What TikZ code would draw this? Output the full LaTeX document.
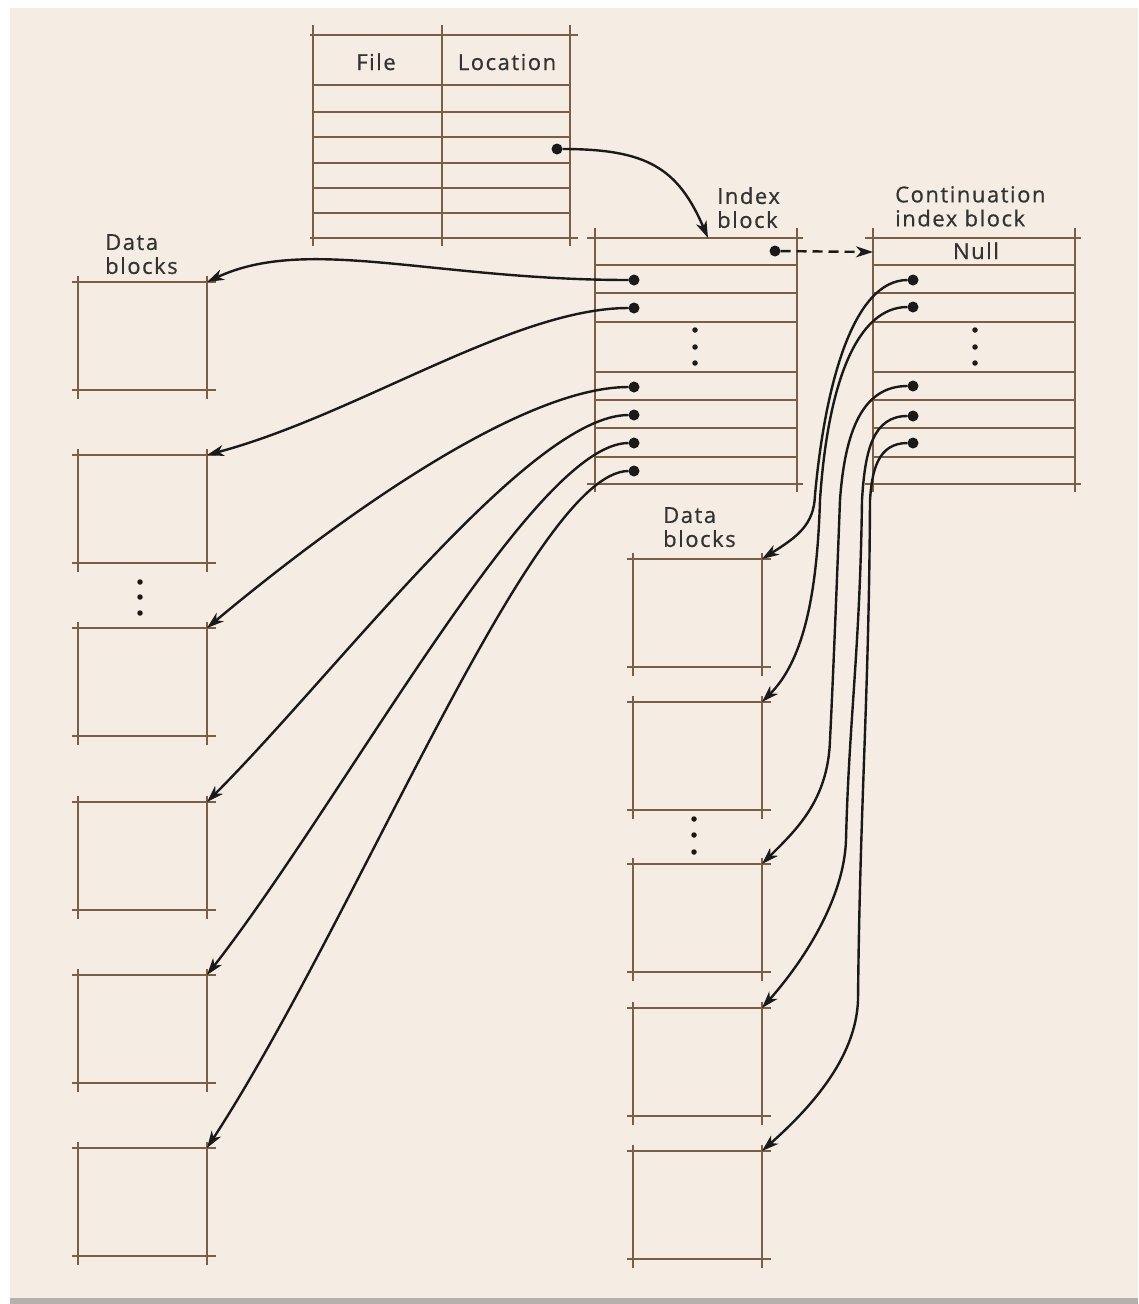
\documentclass[tikz,border=0pt]{standalone}
\usepackage{fontspec}
\setmainfont{Open Sans}[LetterSpace=7,FakeBold=0.6]
\usetikzlibrary{arrows.meta}

\definecolor{paper}{HTML}{F5EDE3}
\definecolor{rulebrown}{HTML}{7B5E44}
\definecolor{ink}{HTML}{1A1A1A}
\definecolor{labelgray}{HTML}{333333}
\definecolor{edgegray}{HTML}{B4B1AD}

\tikzset{
  rule/.style={draw=rulebrown, line width=2.8pt},
  ptr/.style={draw=ink, line width=2.4pt, -{Stealth[length=17pt,width=11pt,inset=5pt]}},
  pdot/.style={circle, fill=ink, inner sep=0pt, outer sep=0pt, minimum size=11pt},
  edot/.style={circle, fill=ink, inner sep=0pt, minimum size=5.5pt},
  dblk/.style={rectangle, inner sep=0pt, outer sep=0pt,
               minimum width=129pt, minimum height=108pt, anchor=north west},
  frame/.style={rectangle, inner sep=0pt, outer sep=0pt, anchor=north west},
  lbl/.style={font=\fontsize{22}{24}\selectfont, text=labelgray, inner sep=0pt,
              align=left, anchor=north west},
}

% a data block: square with slightly overshooting edges
\newcommand\datablock[3]{%
  \node[dblk] (#1) at (#2,#3) {};
  \draw[rule] ([xshift=-6pt]#1.north west) -- ([xshift=9pt]#1.north east);
  \draw[rule] ([xshift=-6pt]#1.south west) -- ([xshift=9pt]#1.south east);
  \draw[rule] ([yshift=6pt]#1.north west) -- ([yshift=-9pt]#1.south west);
  \draw[rule] ([yshift=6pt]#1.north east) -- ([yshift=-9pt]#1.south east);
}

% an index block table with left edge #2
\newcommand\indextable[2]{%
  \node[frame, minimum width=202pt, minimum height=246pt] (#1) at (#2,238) {};
  \foreach \yy in {265,293,322,372,400,428,457}
    \draw[rule] (#2,\yy) -- (#2+202,\yy);
  \draw[rule] (#2-8,238) -- (#2+208,238);
  \draw[rule] (#2-8,484) -- (#2+208,484);
  \draw[rule] (#2,228) -- (#2,492);
  \draw[rule] (#2+202,228) -- (#2+202,492);
}

\begin{document}
\begin{tikzpicture}[x=1pt,y=-1pt]
\useasboundingbox (0,0) rectangle (1138,1304);
\fill[white] (0,0) rectangle (1138,1304);
\fill[paper] (10,8) rectangle (1138,1298);
\fill[edgegray] (10,1298) rectangle (1138,1304);

% ---------- file directory ----------
\node[frame, minimum width=257pt, minimum height=203pt] (FT) at (313,35) {};
\draw[rule] (310,35) -- (578,35);
\draw[rule] (310,238) -- (578,238);
\foreach \yy in {85,112,137,163,188,213}
  \draw[rule] (313,\yy) -- (570,\yy);
\foreach \xx in {313,442,570}
  \draw[rule] (\xx,25) -- (\xx,246);
\node[lbl, anchor=base] (tfile) at (376,70) {File};
\node[lbl, anchor=base] (tloc) at (507,70) {Location};
\node[pdot] (f3) at (557,149) {};

% ---------- index block and continuation ----------
\indextable{IB}{595}
\indextable{CB}{873}
\node[lbl] (tib) at (717,187) {Index\\block};
\node[lbl] (tcb) at (895,186) {Continuation\\index block};
\node[lbl, anchor=base] (tnull) at (976,259) {Null};

\coordinate (ibtop) at (708,238);
\coordinate (cbin) at (873,252);

\node[pdot] (i0) at (775,251) {};
\foreach \n/\yy in {1/280,2/308,3/387,4/415,5/443,6/471}
  \node[pdot] (i\n) at (634,\yy) {};
\foreach \n/\yy in {1/280,2/307,4/386,5/416,6/443}
  \node[pdot] (c\n) at (913,\yy) {};

\foreach \yy in {330,347,363} {
  \node[edot] at (695,\yy) {};
  \node[edot] at (975,\yy) {};
}

% ---------- data blocks ----------
\node[lbl] (tdl) at (105,234) {Data\\blocks};
\node[lbl] (tdr) at (663,507) {Data\\blocks};

\datablock{L1}{78}{282}
\datablock{L2}{78}{455}
\datablock{L3}{78}{628}
\datablock{L4}{78}{802}
\datablock{L5}{78}{975}
\datablock{L6}{78}{1148}

\datablock{R1}{633}{559}
\datablock{R2}{633}{702}
\datablock{R3}{633}{864}
\datablock{R4}{633}{1008}
\datablock{R5}{633}{1151}

\foreach \yy in {582,597,613} \node[edot] at (140,\yy) {};
\foreach \yy in {819,835,852} \node[edot] at (694,\yy) {};

% ---------- pointers ----------
\draw[ptr] (f3) .. controls +(90,0) and +(-30,-70) .. (ibtop);
\draw[ptr, dash pattern=on 10pt off 6pt] (i0) -- (cbin);

\draw[ptr] (i1) .. controls +(-200,0) and +(100,-47) .. (L1.north east);
\draw[ptr] (i2) .. controls +(-120,0) and +(150,-40) .. (L2.north east);
\draw[ptr] (i3) .. controls +(-120,0) and +(110,-92) .. (L3.north east);
\draw[ptr] (i4) .. controls +(-104,0) and +(130,-130) .. (L4.north east);
\draw[ptr] (i5) .. controls +(-100,0) and +(140,-180) .. (L5.north east);
\draw[ptr] (i6) .. controls +(-100,0) and +(150,-230) .. (L6.north east);

\coordinate (w1) at (815,495);
\coordinate (w2) at (820,500);
\coordinate (w4a) at (840,500);
\coordinate (w4b) at (830,740);
\coordinate (w5a) at (862,500);
\coordinate (w5b) at (846,840);
\coordinate (w6a) at (870,500);
\coordinate (w6b) at (858,1000);

\draw[ptr] (c1) .. controls +(-60,0) and +(10,-110) .. (w1)
               .. controls +(-1,30) and +(35,-22) .. (R1.north east);
\draw[ptr] (c2) .. controls +(-55,0) and +(8,-120) .. (w2)
               .. controls +(-3,100) and +(40,-40) .. (R2.north east);
\draw[ptr] (c4) .. controls +(-50,0) and +(5,-70) .. (w4a)
               .. controls +(-3,80) and +(3,-60) .. (w4b)
               .. controls +(-2,60) and +(35,-35) .. (R3.north east);
\draw[ptr] (c5) .. controls +(-40,0) and +(3,-50) .. (w5a)
               .. controls +(-2,150) and +(3,-120) .. (w5b)
               .. controls +(-2,60) and +(40,-45) .. (R4.north east);
\draw[ptr] (c6) .. controls +(-35,0) and +(2,-30) .. (w6a)
               .. controls +(-1,200) and +(2,-200) .. (w6b)
               .. controls +(-2,60) and +(45,-40) .. (R5.north east);
\end{tikzpicture}
\end{document}
